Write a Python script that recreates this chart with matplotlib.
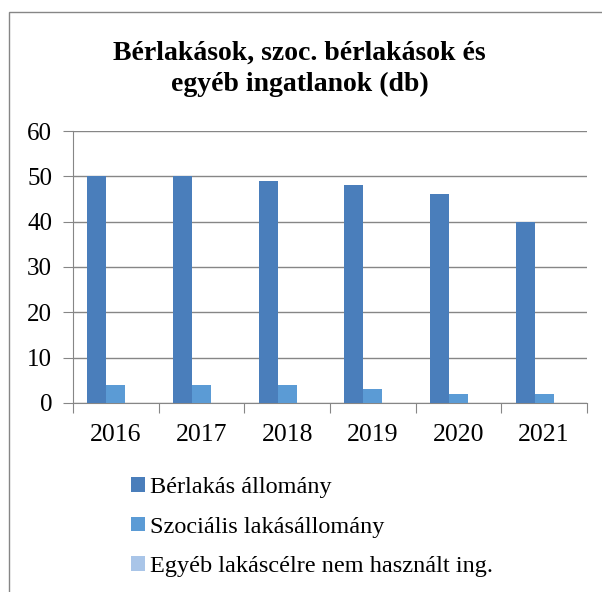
import matplotlib.pyplot as plt
import numpy as np
from matplotlib.patches import Rectangle

years = ['2016', '2017', '2018', '2019', '2020', '2021']
berlakas = [50, 50, 49, 48, 46, 40]
szocialis = [4, 4, 4, 3, 2, 2]
egyeb = [0, 0, 0, 0, 0, 0]

labels = ['Bérlakás állomány', 'Szociális lakásállomány',
          'Egyéb lakáscélre nem használt ing.']
colors = ['#4A7EBB', '#5B9BD5', '#A9C5E8']

plt.rcParams['font.family'] = 'Liberation Serif'

fig = plt.figure(figsize=(6.02, 5.92), dpi=100)
ax = fig.add_axes([0.1213, 0.3193, 0.8537, 0.4594])

x = np.arange(len(years))
w = 0.2227
bars = []
for i, (vals, c, lab) in enumerate(zip([berlakas, szocialis, egyeb], colors, labels)):
    b = ax.bar(x + (i - 1) * w, vals, w, color=c, label=lab, zorder=3)
    bars.append(b)

ax.set_xlim(-0.5, len(years) - 0.5)
ax.set_ylim(0, 60)
ax.set_yticks(range(0, 61, 10))
ax.tick_params(axis='y', labelsize=18, length=7, color='#868686', pad=8)

ax.set_xticks(np.arange(-0.5, len(years), 1))
ax.set_xticklabels([])
ax.set_xticks(x, minor=True)
ax.set_xticklabels(years, minor=True)
ax.tick_params(axis='x', which='major', length=7, color='#868686')
ax.tick_params(axis='x', which='minor', length=0, labelsize=18.5, pad=15)

ax.grid(axis='y', color='#868686', linewidth=1, zorder=0)
for s in ['top', 'right']:
    ax.spines[s].set_visible(False)
for s in ['left', 'bottom']:
    ax.spines[s].set_color('#868686')

fig.text(0.498, 0.884, 'Bérlakások, szoc. bérlakások és\negyéb ingatlanok (db)',
         ha='center', va='center', fontsize=20, fontweight='bold', linespacing=1.35)

fig.legend(handles=bars, labels=labels, loc='upper left',
           bbox_to_anchor=(0.202, 0.21), frameon=False, fontsize=17.5,
           handlelength=0.55, handleheight=0.55, handletextpad=0.2,
           labelspacing=0.75, borderaxespad=0)

fig.patches.append(Rectangle((9 / 602, -0.1), 1.2, 0.98 + 0.1, transform=fig.transFigure,
                             fill=False, edgecolor='#868686', linewidth=1))

fig.savefig('out.png', dpi=100)
